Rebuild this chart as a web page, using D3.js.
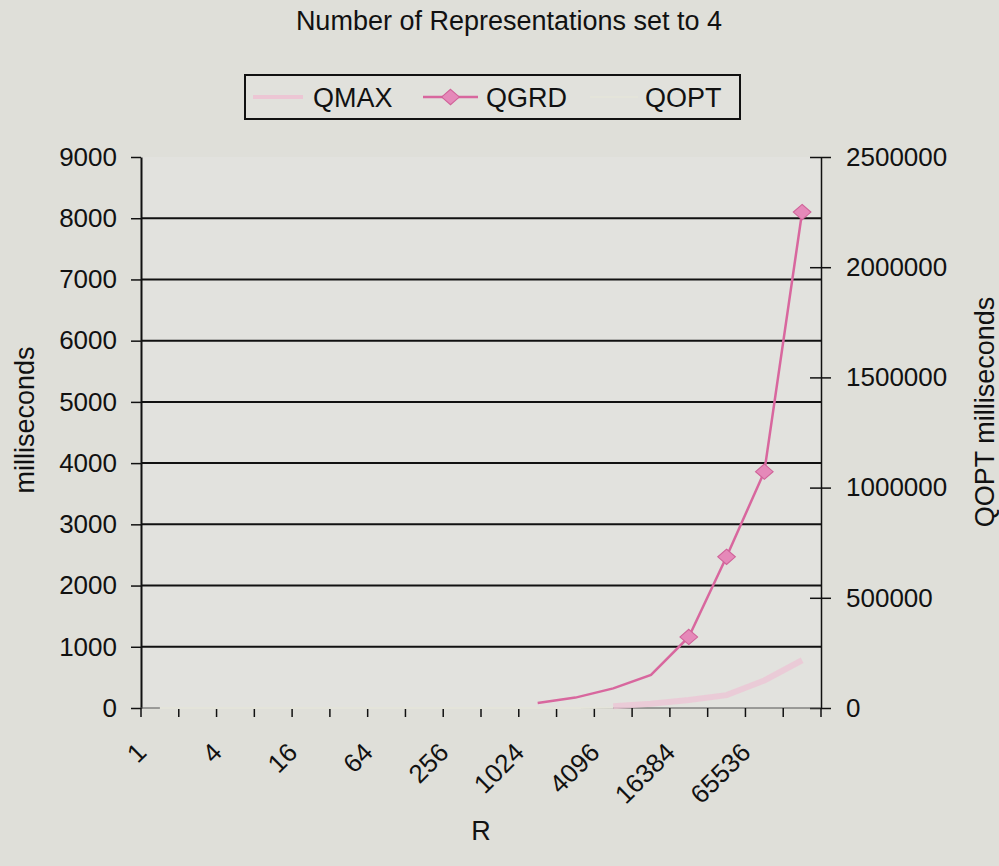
<!DOCTYPE html>
<html>
<head>
<meta charset="utf-8">
<script src="https://cdn.jsdelivr.net/npm/d3@7"></script>
<style>
  html, body { margin: 0; padding: 0; background: #dfdfd9; }
  svg { display: block; font-family: Arial, "Liberation Sans", sans-serif; }
</style>
</head>
<body>
<svg id="chart" width="999" height="866"></svg>
<script>
// ---- data ----
const categories = ["1","2","4","8","16","32","64","128","256","512","1024","2048","4096","8192","16384","32768","65536","131072"];
const shownLabels = ["1","4","16","64","256","1024","4096","16384","65536"];
const qgrd = [null,null,null,null,null,null,null,null,null,null,80,170,320,540,1160,2470,3860,8100];
const qmax = [null,null,null,null,null,null,null,null,null,null,null,null,30,70,130,210,450,780];
const qopt = [0,0,0,0,1,2,5,12,30,80,200,500,1200,null,null,null,null,null];
const leftTicks = [0,1000,2000,3000,4000,5000,6000,7000,8000,9000];
const rightTicks = [0,500000,1000000,1500000,2000000,2500000];
const seriesNames = ["QMAX","QGRD","QOPT"];

const svg = d3.select("#chart");
const W = 999, H = 866;
const plot = {left: 141, right: 821, top: 157, bottom: 708};

svg.append("rect").attr("width", W).attr("height", H).attr("fill", "#dfdfd9");
svg.append("rect").attr("x", plot.left).attr("y", plot.top)
  .attr("width", plot.right - plot.left).attr("height", plot.bottom - plot.top)
  .attr("fill", "#e2e2de");

const x = d3.scaleBand().domain(categories).range([plot.left, plot.right]).paddingInner(0).paddingOuter(0);
const yL = d3.scaleLinear().domain([0, 9000]).range([plot.bottom, plot.top]);
const yR = d3.scaleLinear().domain([0, 2500000]).range([plot.bottom, plot.top]);
const cx = c => x(c) + x.bandwidth() / 2;

// gridlines
svg.append("g").selectAll("line").data(leftTicks.filter(v => v > 0 && v < 9000)).join("line")
  .attr("x1", plot.left).attr("x2", plot.right)
  .attr("y1", d => yL(d)).attr("y2", d => yL(d))
  .attr("stroke", "#111").attr("stroke-width", 2);

// left axis
const gL = svg.append("g").attr("transform", `translate(${plot.left},0)`)
  .call(d3.axisLeft(yL).tickValues(leftTicks).tickSizeInner(10).tickSizeOuter(0).tickPadding(14).tickFormat(d3.format("d")));
gL.select(".domain").attr("stroke", "#111").attr("stroke-width", 2);
gL.selectAll(".tick line").attr("stroke", "#111").attr("stroke-width", 1.5);
gL.selectAll(".tick text").attr("font-size", 26).attr("fill", "#111").attr("font-family", "Arial, 'Liberation Sans', sans-serif");

// right axis
const gR = svg.append("g").attr("transform", `translate(${plot.right},0)`)
  .call(d3.axisRight(yR).tickValues(rightTicks).tickSizeInner(10).tickSizeOuter(0).tickPadding(15).tickFormat(d3.format("d")));
gR.select(".domain").attr("stroke", "#111").attr("stroke-width", 1.5);
gR.selectAll(".tick line").attr("x1", -11).attr("stroke", "#111").attr("stroke-width", 1.5);
gR.selectAll(".tick text").attr("font-size", 26).attr("fill", "#111").attr("font-family", "Arial, 'Liberation Sans', sans-serif");

// x axis
const bounds = categories.map(c => x(c)).concat([x(categories[categories.length - 1]) + x.bandwidth()]);
const gX = svg.append("g");
gX.append("line").attr("x1", plot.left).attr("x2", plot.right)
  .attr("y1", plot.bottom).attr("y2", plot.bottom)
  .attr("stroke", "#555").attr("stroke-width", 1.2);
gX.selectAll("line.xt").data(bounds).join("line").attr("class", "xt")
  .attr("x1", d => d).attr("x2", d => d)
  .attr("y1", plot.bottom).attr("y2", plot.bottom + 9)
  .attr("stroke", "#111").attr("stroke-width", 1.5);
gX.selectAll("text").data(categories.filter(c => shownLabels.includes(c))).join("text")
  .attr("transform", d => `translate(${cx(d) - 12},754) rotate(-45)`)
  .attr("text-anchor", "end")
  .attr("font-size", 26).attr("fill", "#111")
  .text(d => d);

// series lines
const lineL = d3.line().defined(d => d.v != null).x(d => cx(d.c)).y(d => yL(d.v));
const lineR = d3.line().defined(d => d.v != null).x(d => cx(d.c)).y(d => yR(d.v));
const toPts = arr => categories.map((c, i) => ({c, v: arr[i]}));

// QOPT (washed out, nearly invisible)
svg.append("path").datum(toPts(qopt)).attr("d", lineR)
  .attr("fill", "none").attr("stroke", "#e4e4da").attr("stroke-width", 2);

// QMAX (faint pink)
svg.append("path").datum(toPts(qmax)).attr("d", lineL)
  .attr("fill", "none").attr("stroke", "#ecc6d4").attr("stroke-width", 6).attr("opacity", 0.8);

// QGRD
const qgrdPts = toPts(qgrd);
svg.append("path").datum(qgrdPts).attr("d", lineL)
  .attr("fill", "none").attr("stroke", "#d8679e").attr("stroke-width", 2.5);
const diamond = d3.symbol().type(d3.symbolDiamond2).size(150);
svg.append("g").selectAll("path").data(qgrdPts.filter(d => d.v != null && d.v >= 1000)).join("path")
  .attr("transform", d => `translate(${cx(d.c)},${yL(d.v)}) scale(1.15,1)`)
  .attr("d", diamond).attr("fill", "#e589b9").attr("stroke", "#d06399").attr("stroke-width", 1);

// title
svg.append("text").attr("x", 509).attr("y", 30).attr("text-anchor", "middle")
  .attr("font-size", 27).attr("fill", "#111").text("Number of Representations set to 4");

// axis titles
svg.append("text").attr("transform", "translate(34,420) rotate(-90)").attr("text-anchor", "middle")
  .attr("font-size", 27).attr("fill", "#111").text("milliseconds");
svg.append("text").attr("transform", "translate(994,412) rotate(-90)").attr("text-anchor", "middle")
  .attr("font-size", 27).attr("fill", "#111").text("QOPT milliseconds");
svg.append("text").attr("x", 481).attr("y", 840).attr("text-anchor", "middle")
  .attr("font-size", 27).attr("fill", "#111").text("R");

// legend
const lg = svg.append("g");
lg.append("rect").attr("x", 245).attr("y", 75).attr("width", 495).attr("height", 44)
  .attr("fill", "#e1e1dc").attr("stroke", "#111").attr("stroke-width", 2);
const legendItems = [
  {name: seriesNames[0], x0: 253, x1: 303, tx: 313, color: "#ecc6d4", w: 4, marker: false},
  {name: seriesNames[1], x0: 423, x1: 478, tx: 486, color: "#d8679e", w: 2.5, marker: true},
  {name: seriesNames[2], x0: 590, x1: 638, tx: 645, color: "#e4e4da", w: 2, marker: false}
];
legendItems.forEach(it => {
  lg.append("line").attr("x1", it.x0).attr("x2", it.x1).attr("y1", 97).attr("y2", 97)
    .attr("stroke", it.color).attr("stroke-width", it.w);
  if (it.marker) {
    lg.append("path").attr("transform", `translate(${(it.x0 + it.x1) / 2},97) scale(1.15,1)`)
      .attr("d", diamond).attr("fill", "#e589b9").attr("stroke", "#d06399").attr("stroke-width", 1);
  }
  lg.append("text").attr("x", it.tx).attr("y", 107).attr("font-size", 27).attr("fill", "#111").text(it.name);
});
</script>
</body>
</html>
